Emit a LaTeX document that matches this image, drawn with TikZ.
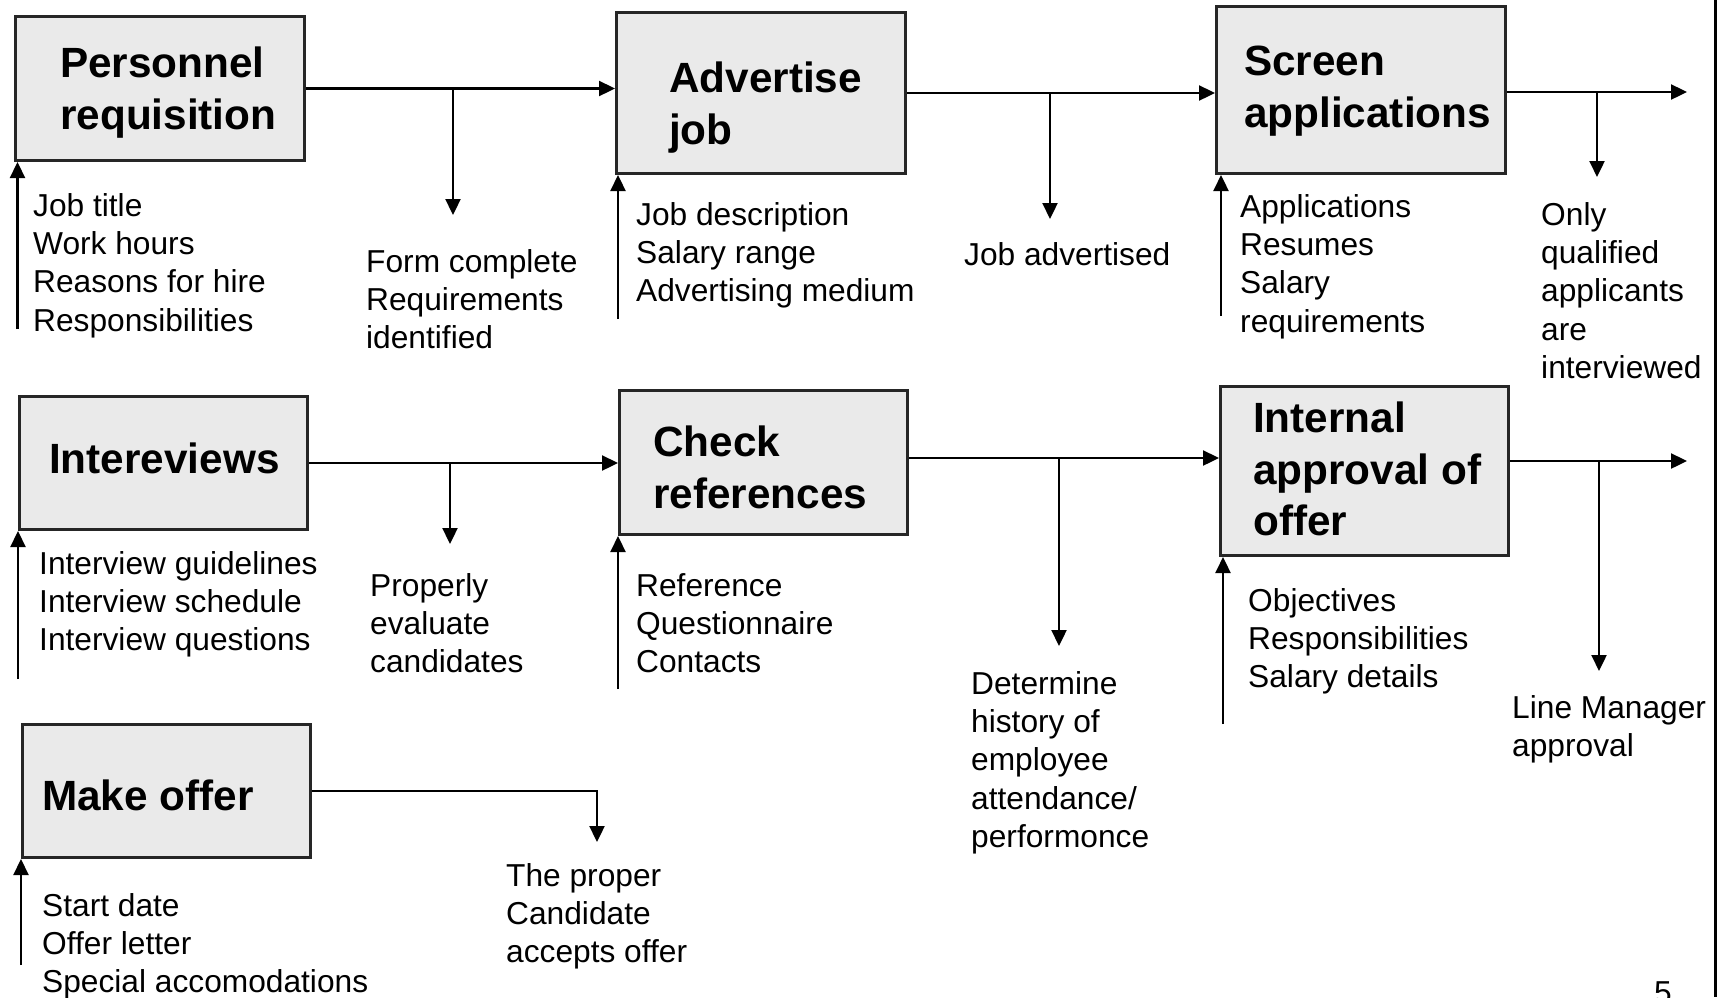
\documentclass[tikz,border=0pt]{standalone}
\usepackage{fontspec}
\setmainfont{Liberation Sans}
\usetikzlibrary{arrows.meta}
\definecolor{boxgray}{RGB}{234,234,234}
\begin{document}
\begin{tikzpicture}[x=1pt,y=-1pt,
  procbox/.style={draw=black!85, line width=3pt, fill=boxgray, inner sep=0, anchor=north west},
  boxtxt/.style={anchor=north west, inner sep=0, align=left, font=\fontsize{42.3}{51.5}\selectfont\bfseries},
  lbl/.style={anchor=north west, inner sep=0, align=left, font=\fontsize{31.7}{38.4}\selectfont},
  arr/.style={line width=2.3pt, -{Triangle[length=16pt,width=15pt]}},
]
\useasboundingbox (0,0) rectangle (1720,997);
\fill[white] (0,0) rectangle (1720,997);

% boxes
\node[procbox, minimum width=289pt, minimum height=144pt] (b1) at (14,15) {};
\node[procbox, minimum width=289pt, minimum height=161pt] (b2) at (615,11) {};
\node[procbox, minimum width=289pt, minimum height=167pt] (b3) at (1215,5) {};
\node[procbox, minimum width=288pt, minimum height=133pt] (b4) at (18,395) {};
\node[procbox, minimum width=288pt, minimum height=144pt] (b5) at (618,389) {};
\node[procbox, minimum width=288pt, minimum height=169pt] (b6) at (1219,385) {};
\node[procbox, minimum width=288pt, minimum height=133pt] (b7) at (21,723) {};

% box texts
\node[boxtxt] (b1t) at (60,47) {Personnel\\requisition};
\node[boxtxt] (b2t) at (669,62) {Advertise\\job};
\node[boxtxt] (b3t) at (1244,46) {Screen\\applications};
\node[boxtxt] (b4t) at (49,443) {Intereviews};
\node[boxtxt] (b5t) at (653,426) {Check\\references};
\node[boxtxt] (b6t) at (1253,402) {Internal\\approval of\\offer};
\node[boxtxt] (b7t) at (42,780) {Make offer};

% labels
\node[lbl] (t1) at (33,193) {Job title\\Work hours\\Reasons for hire\\Responsibilities};
\node[lbl] (t2) at (366,249) {Form complete\\Requirements\\identified};
\node[lbl] (t3) at (636,202) {Job description\\Salary range\\Advertising medium};
\node[lbl] (t4) at (964,242) {Job advertised};
\node[lbl] (t5) at (1240,194) {Applications\\Resumes\\Salary\\requirements};
\node[lbl] (t6) at (1541,202) {Only\\qualified\\applicants\\are\\interviewed};
\node[lbl] (t7) at (39,551) {Interview guidelines\\Interview schedule\\Interview questions};
\node[lbl] (t8) at (370,573) {Properly\\evaluate\\candidates};
\node[lbl] (t9) at (636,573) {Reference\\Questionnaire\\Contacts};
\node[lbl] (t10) at (971,671) {Determine\\history of\\employee\\attendance/\\performonce};
\node[lbl] (t11) at (1248,588) {Objectives\\Responsibilities\\Salary details};
\node[lbl] (t12) at (1512,695) {Line Manager\\approval};
\node[lbl] (t13) at (42,893) {Start date\\Offer letter\\Special accomodations};
\node[lbl] (t14) at (506,863) {The proper\\Candidate\\accepts offer};
\node[lbl] (pg) at (1654,981) {5};

% coordinates
\coordinate (d1) at (453,215);
\coordinate (d2) at (1050,219);
\coordinate (d3) at (1597,177);
\coordinate (out1) at (1687,92);
\coordinate (d4) at (450,544);
\coordinate (j5) at (1059,458);
\coordinate (d5) at (1059,646);
\coordinate (out2) at (1687,461);
\coordinate (d6) at (1599,671);
\coordinate (d7) at (597,842);
\coordinate (i1) at (17.5,329);
\coordinate (i2) at (618,319);
\coordinate (i3) at (1221,316);
\coordinate (i4) at (18,679);
\coordinate (i5) at (618,689);
\coordinate (i6) at (1223,724);
\coordinate (i7) at (21,965);

% row 1
\draw[arr] (b1.east) -- (b1.east -| b2.west);
\draw[arr] (b1.east -| d1) -- (d1);
\draw[arr] (b2.east) -- (b2.east -| b3.west);
\draw[arr] (b2.east -| d2) -- (d2);
\draw[arr] (out1 -| b3.east) -- (out1);
\draw[arr] (out1 -| d3) -- (d3);
\draw[arr] (i1) -- (i1 |- b1.south);
\draw[arr] (i2) -- (i2 |- b2.south);
\draw[arr] (i3) -- (i3 |- b3.south);

% row 2
\draw[arr] (b4.east) -- (b4.east -| b5.west);
\draw[arr] (b4.east -| d4) -- (d4);
\draw[arr] (j5 -| b5.east) -- (j5 -| b6.west);
\draw[arr] (j5) -- (d5);
\draw[arr] (out2 -| b6.east) -- (out2);
\draw[arr] (out2 -| d6) -- (d6);
\draw[arr] (i4) -- (i4 |- b4.south);
\draw[arr] (i5) -- (i5 |- b5.south);
\draw[arr] (i6) -- (i6 |- b6.south);

% row 3
\draw[arr] (b7.east) -| (d7);
\draw[arr] (i7) -- (i7 |- b7.south);

% right border
\draw[line width=3pt] (1715,0) -- (1715,997);
\end{tikzpicture}
\end{document}
